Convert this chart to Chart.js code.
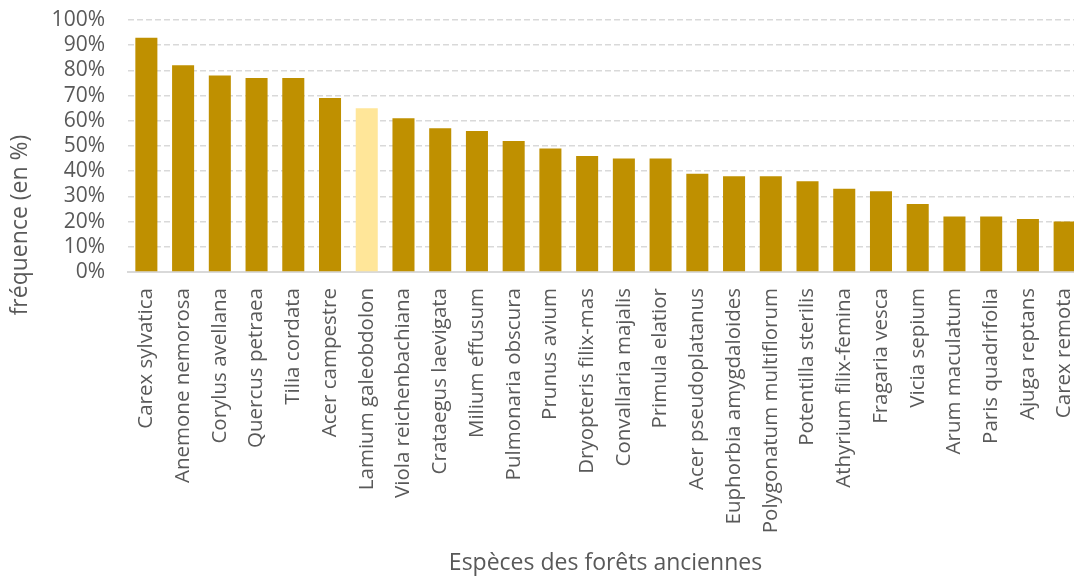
<!DOCTYPE html>
<html>
<head>
<meta charset="utf-8">
<script src="https://cdn.jsdelivr.net/npm/chart.js@4"></script>
<style>
    html, body { margin: 0; padding: 0; background: #fff; overflow: hidden; }
</style>
</head>
<body>
<canvas id="speciesChart" width="1083" height="579"></canvas>
<script>
const species = [
    "Carex sylvatica", "Anemone nemorosa", "Corylus avellana", "Quercus petraea",
    "Tilia cordata", "Acer campestre", "Lamium galeobdolon", "Viola reichenbachiana",
    "Crataegus laevigata", "Milium effusum", "Pulmonaria obscura", "Prunus avium",
    "Dryopteris filix-mas", "Convallaria majalis", "Primula elatior", "Acer pseudoplatanus",
    "Euphorbia amygdaloides", "Polygonatum multiflorum", "Potentilla sterilis",
    "Athyrium filix-femina", "Fragaria vesca", "Vicia sepium", "Arum maculatum",
    "Paris quadrifolia", "Ajuga reptans", "Carex remota"
];
const frequency = [93, 82, 78, 77, 77, 69, 65, 61, 57, 56, 52, 49, 46, 45, 45, 39, 38, 38, 36, 33, 32, 27, 22, 22, 21, 20];
const highlighted = "Lamium galeobdolon";
const yTicks = [0, 10, 20, 30, 40, 50, 60, 70, 80, 90, 100];
const yTitle = "fréquence (en %)";

const textColor = "#595959";
const fontFamily = "'Open Sans', sans-serif";

let barColors = species.map(name => name === highlighted ? "#FFE699" : "#BF9000");

// Excel centres the y title on the whole chart height, not on the plot area
const yTitlePlugin = {
    id: "yTitle",
    afterDraw(chart) {
        let c = chart.ctx;
        c.save();
        c.translate(20, 225);
        c.rotate(-Math.PI / 2);
        c.font = "23px " + fontFamily;
        c.fillStyle = textColor;
        c.textAlign = "center";
        c.textBaseline = "middle";
        c.fillText(yTitle, 0, 0);
        c.restore();
    }
};

let ctx = document.getElementById("speciesChart").getContext("2d");
new Chart(ctx, {
    type: "bar",
    data: {
        labels: species,
        datasets: [{
            data: frequency,
            backgroundColor: barColors,
            barPercentage: 0.6,
            categoryPercentage: 1
        }]
    },
    plugins: [yTitlePlugin],
    options: {
        responsive: false,
        animation: false,
        layout: { padding: 0 },
        plugins: { legend: { display: false }, tooltip: { enabled: false } },
        scales: {
            x: {
                afterFit: axis => { axis.paddingLeft = 0; axis.paddingRight = 0; axis.height = 307; },
                grid: { display: false, drawTicks: false },
                border: { display: true, color: "#D9D9D9", width: 2 },
                ticks: {
                    color: textColor,
                    font: { family: fontFamily, size: 20.5 },
                    minRotation: 90,
                    maxRotation: 90,
                    autoSkip: false,
                    padding: 16
                },
                title: {
                    display: true,
                    text: "Espèces des forêts anciennes",
                    color: textColor,
                    font: { family: fontFamily, size: 23 },
                    padding: { top: 10, bottom: 2 }
                }
            },
            y: {
                min: 0,
                max: 100,
                afterBuildTicks: axis => { axis.ticks = yTicks.map(v => ({ value: v })); },
                afterFit: axis => { axis.width = 128; axis.paddingTop = 20; axis.paddingBottom = 0; },
                grid: { color: "#D9D9D9", lineWidth: 1.5, drawTicks: false },
                border: { display: false, dash: [6, 3] },
                ticks: {
                    color: textColor,
                    font: { family: fontFamily, size: 21 },
                    padding: 23,
                    autoSkip: false,
                    callback: v => v + "%"
                }
            }
        }
    }
});
</script>
</body>
</html>
